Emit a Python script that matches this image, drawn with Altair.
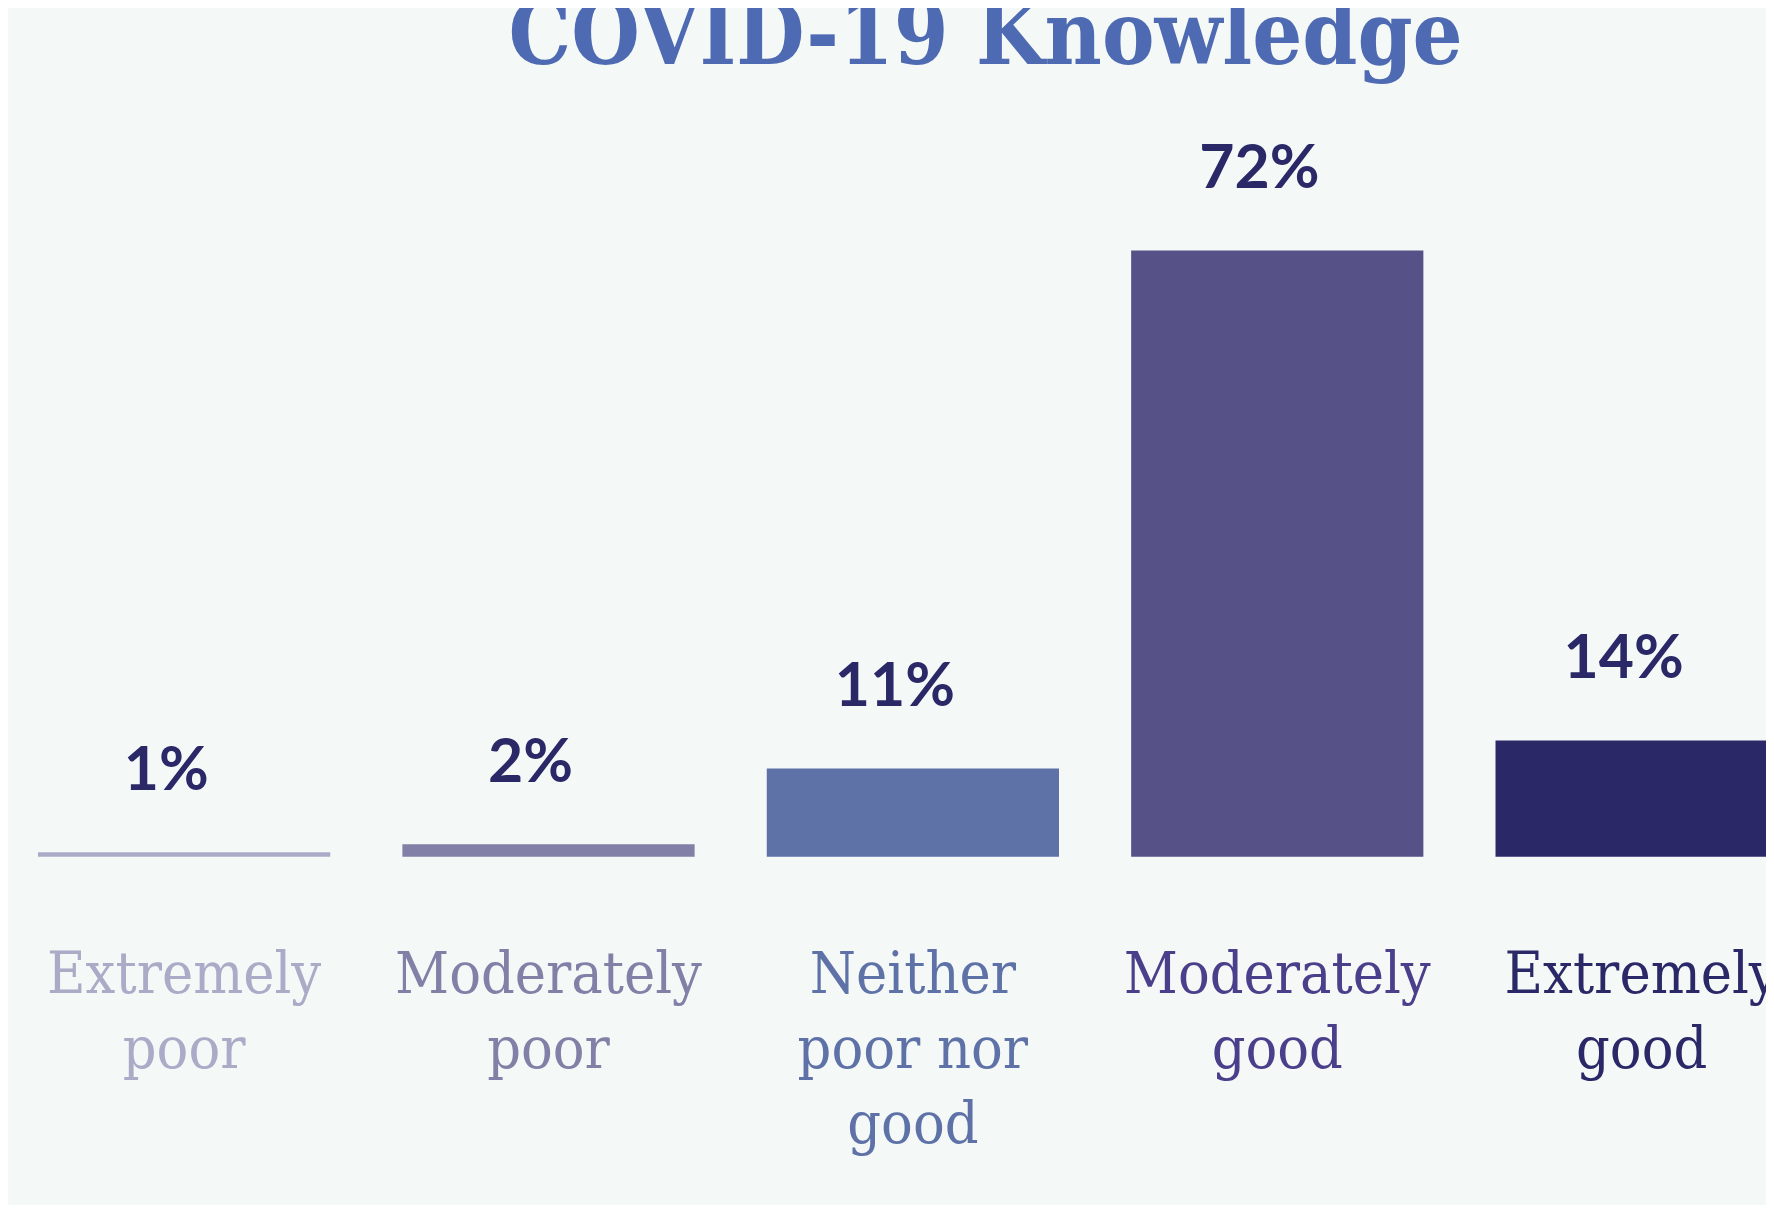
import altair as alt
import pandas as pd

# ---- data ----
categories = ["Extremely poor", "Moderately poor", "Neither poor nor good",
              "Moderately good", "Extremely good"]
values = [0.55, 1.5, 10.5, 72.0, 13.8]          # bar heights (%)
value_labels = ["1%", "2%", "11%", "72%", "14%"]
bar_colors = ["#abaac7", "#8280a7", "#5e72a8", "#565287", "#2b2868"]
label_colors = ["#abaac7", "#8280a7", "#5e72a8", "#4a3f8b", "#2b2868"]
title_text = ["COVID-19 Knowledge"]

df = pd.DataFrame({"cat": categories, "value": values, "label": value_labels})
title_df = pd.DataFrame({"t": title_text})

label_expr = ("datum.label == 'Neither poor nor good' ? ['Neither', 'poor nor', 'good'] "
              ": split(datum.label, ' ')")
label_color = {
    "condition": [{"test": f"datum.value == '{c}'", "value": col}
                  for c, col in zip(categories, label_colors)],
    "value": label_colors[0],
}

serif = "DejaVu Serif Condensed, DejaVu Serif, serif"

x = alt.X(
    "cat:N",
    sort=categories,
    scale=alt.Scale(range=[0, 1818], paddingInner=0.198, paddingOuter=0.0824),
    axis=alt.Axis(
        title=None, domain=False, ticks=False, tickSize=0, labelAngle=0,
        labelFont=serif, labelFontSize=59, labelLineHeight=75.5,
        labelPadding=89, labelExpr=label_expr, labelColor=label_color,
        labelOverlap=False, labelLimit=0, labelBound=False, grid=False,
    ),
)
y = alt.Y("value:Q", scale=alt.Scale(domain=[0, 88.4], nice=False, zero=True), axis=None)

base = alt.Chart(df).encode(x=x, y=y)

bars = base.mark_bar().encode(
    color=alt.Color("cat:N", scale=alt.Scale(domain=categories, range=bar_colors), legend=None)
)

texts = base.mark_text(
    font="Lato", fontWeight="bold", fontSize=61, color="#2b2868",
    baseline="alphabetic", align="center", dx=-18, dy=-63,
).encode(text="label:N")

title = alt.Chart(title_df).mark_text(
    font=serif, fontSize=88, fontWeight="bold", color="#4e6ab2",
    baseline="alphabetic", align="center",
).encode(text="t:N", x=alt.value(982), y=alt.value(-48))

chart = (
    alt.layer(bars, texts, title)
    .properties(
        width=1766, height=748,
        autosize=alt.AutoSizeParams(type="none"),
        padding={"left": 0, "right": 0, "top": 102, "bottom": 347},
        background="#f4f8f7",
    )
    .configure_view(stroke=None)
)

chart.save("out.html", embed_options={"renderer": "svg", "actions": False})
